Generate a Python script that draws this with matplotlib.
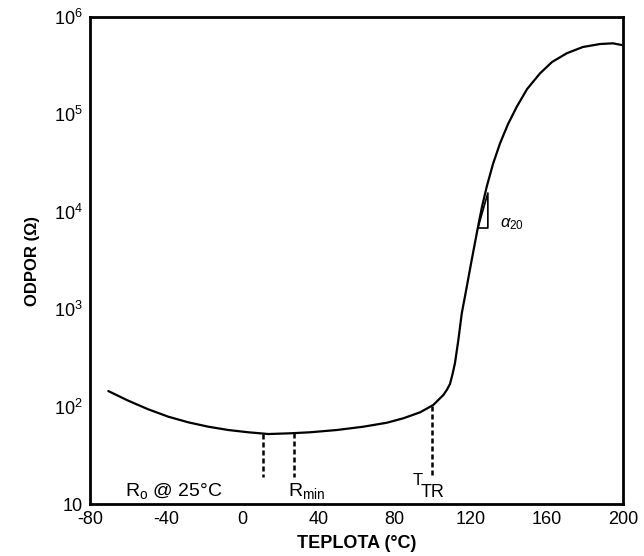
import matplotlib.pyplot as plt
from matplotlib.ticker import FixedLocator, FixedFormatter, NullLocator

plt.rcParams['font.family'] = ['Liberation Sans', 'DejaVu Sans']
plt.rcParams['mathtext.fontset'] = 'custom'
plt.rcParams['mathtext.rm'] = 'Liberation Sans'
plt.rcParams['mathtext.it'] = 'Liberation Sans:italic'
plt.rcParams['axes.unicode_minus'] = False

# PTC curve
temp = [-70.4, -59.9, -49.4, -38.9, -28.4, -17.9, -7.3, 3.2, 13.7, 25.1,
        35.6, 49.6, 63.6, 75.9, 84.6, 93.4, 100.3, 105.6, 107.4, 109.1,
        110.4, 111.7, 113.5, 115.3, 117.9, 119.6, 121.7, 123.8, 125.9, 128.4,
        131.7, 135.4, 139.6, 144.2, 149.6, 156.4, 162.7, 170.4, 178.9, 187.9,
        194.7, 199.3]
resist = [144.5, 115, 93.8, 78.8, 69.0, 62.2, 57.5, 54.5, 52.3, 53.2,
          54.5, 57.5, 62.2, 68.3, 75.9, 87.4, 103.9, 131.5, 148, 170.6,
          214, 278, 483, 908, 1690, 2570, 4250, 6980, 11200, 18100,
          31000, 50500, 79600, 120000, 182000, 264000, 345000, 424000, 492000, 528000,
          537000, 516000]

# dashed markers: R0 @ 25C, Rmin, T_TR
mark_t = [10.9, 27.2, 99.6]
mark_r = [52.6, 53.0, 102]
mark_bottom = 19

# slope triangle for alpha_20
tri_t = [123.8, 129.0, 129.0]
tri_r = [6820, 6820, 15600]

xticks = [-80, -40, 0, 40, 80, 120, 160, 200]
yticks = [10, 1e2, 1e3, 1e4, 1e5, 1e6]
ytick_labels = ['10', '10$^{2}$', '10$^{3}$', '10$^{4}$', '10$^{5}$', '10$^{6}$']

fig = plt.figure(figsize=(6.44, 5.56), dpi=100)
ax = fig.add_axes([0.1398, 0.0935, 0.8276, 0.8759])

ax.plot(temp, resist, color='black', lw=1.6, solid_capstyle='round', solid_joinstyle='round')
for t, r in zip(mark_t, mark_r):
    ax.plot([t, t], [r, mark_bottom], color='black', lw=1.8, ls=(0, (2, 1.2)))
ax.plot(tri_t + [tri_t[0]], tri_r + [tri_r[0]], color='black', lw=1.2)

ax.set_yscale('log')
ax.set_xlim(-80, 200)
ax.set_ylim(10, 1e6)
ax.xaxis.set_major_locator(FixedLocator(xticks))
ax.yaxis.set_major_locator(FixedLocator(yticks))
ax.yaxis.set_major_formatter(FixedFormatter(ytick_labels))
ax.yaxis.set_minor_locator(NullLocator())
ax.tick_params(length=0, labelsize=13, pad=5)
for s in ax.spines.values():
    s.set_linewidth(2.0)

ax.text(-61.6, 12.1, r'R$_{\mathrm{o}}$ @ 25°C', fontsize=14, va='baseline')
ax.text(24.0, 12.1, r'R$_{\mathrm{min}}$', fontsize=14, va='baseline')
ax.text(89.3, 15.5, 'T', fontsize=12, va='baseline')
ax.text(93.5, 11.8, 'TR', fontsize=13, va='baseline')
ax.text(135.3, 7500, r'$\alpha_{20}$', fontsize=12, va='center')

ax.set_xlabel('TEPLOTA (°C)', fontsize=13, fontweight='bold', labelpad=5)
ax.set_ylabel('ODPOR (Ω)', fontsize=12, family=['Liberation Sans Narrow', 'Liberation Sans'],
              fontweight='bold', labelpad=10)

fig.savefig('out.png', dpi=100)
